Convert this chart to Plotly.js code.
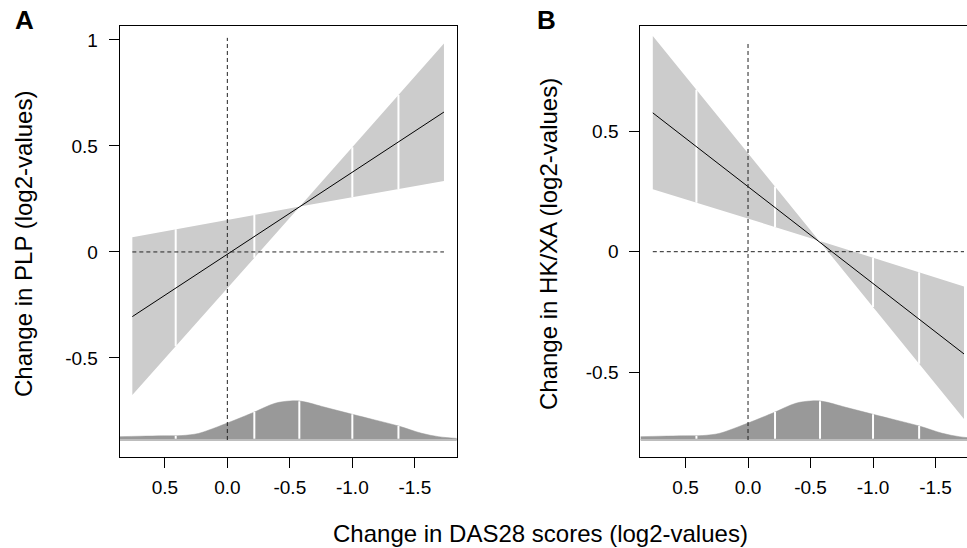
<!DOCTYPE html>
<html><head><meta charset="utf-8">
<script src="https://cdn.plot.ly/plotly-3.0.1.min.js"></script>
<style>html,body{margin:0;padding:0;overflow:hidden;background:#fff}</style>
</head><body><div id="chart"></div>
<script>
// ---- data ----
const xTickVals = [0.5, 0, -0.5, -1, -1.5];
const xTickText = ['0.5', '0.0', '-0.5', '-1.0', '-1.5'];
const yTickValsA = [-0.5, 0, 0.5, 1];
const yTickTextA = ['-0.5', '0', '0.5', '1'];
const yTickValsB = [-0.5, 0, 0.5];
const yTickTextB = ['-0.5', '0', '0.5'];

// quantiles of the DAS28 change (white marks)
const quantiles = [0.413, -0.216, -0.576, -1.0, -1.369];

// Panel A: PLP
const fitXA = [0.76, -1.733];
const fitYA = [-0.305, 0.66];
const bandXA = [0.76, -0.58, -1.733];
const bandUpperA = [0.069, 0.214, 0.984];
const bandLowerA = [-0.675, 0.214, 0.335];
const vTopA = 1.01;

// Panel B: HK/XA
const fitXB = [0.762, -1.728];
const fitYB = [0.577, -0.425];
const bandXB = [0.762, -0.568, -1.728];
const bandUpperB = [0.896, 0.046, -0.145];
const bandLowerB = [0.26, 0.046, -0.695];
const vTopB = 0.87;

// density of DAS28 change
const densX = [0.86, 0.70, 0.50, 0.365, 0.232, 0.152, 0.005, -0.115, -0.222, -0.382, -0.502, -0.595, -0.782, -1.0, -1.18, -1.37, -1.555, -1.69, -1.84];
const densY = [0.051, 0.058, 0.064, 0.068, 0.100, 0.150, 0.257, 0.349, 0.435, 0.565, 0.600, 0.595, 0.503, 0.395, 0.308, 0.215, 0.103, 0.051, 0.024];

// ---- helpers ----
function interp(xs, ys, x) {
  for (let i = 0; i < xs.length - 1; i++) {
    const a = xs[i], b = xs[i + 1];
    if ((x <= a && x >= b) || (x >= a && x <= b)) {
      const t = (x - a) / (b - a);
      return ys[i] + t * (ys[i + 1] - ys[i]);
    }
  }
  return null;
}

const BAND = '#cccccc', DENS = '#999999', FONT = 'Liberation Sans, Arial, Helvetica, sans-serif';
const yRangeA = [-0.966, 1.066], yRangeB = [-0.852, 0.938];
const dRange = [-0.257, 6.369];
const xRangeA = [0.861, -1.835], xRangeB = [0.862, -1.832];

function panel(xa, ya, da, bandX, up, lo, fitX, fitY) {
  const tr = [];
  const px = bandX.concat(bandX.slice().reverse());
  const py = up.concat(lo.slice().reverse());
  tr.push({x: px, y: py, xaxis: xa, yaxis: ya, type: 'scatter', mode: 'lines', fill: 'toself',
    fillcolor: BAND, line: {width: 0, color: BAND}, hoverinfo: 'skip'});
  const wx = [], wy = [];
  quantiles.forEach(q => {
    const u = interp(bandX, up, q), l = interp(bandX, lo, q);
    if (u !== null) { wx.push(q, q, null); wy.push(l, u, null); }
  });
  tr.push({x: wx, y: wy, xaxis: xa, yaxis: ya, type: 'scatter', mode: 'lines',
    line: {color: '#ffffff', width: 2}, hoverinfo: 'skip'});
  tr.push({x: fitX, y: fitY, xaxis: xa, yaxis: ya, type: 'scatter', mode: 'lines',
    line: {color: '#000000', width: 1}, hoverinfo: 'skip'});
  // density (overlay axis, baseline at 0)
  tr.push({x: densX, y: densY, xaxis: xa, yaxis: da, type: 'scatter', mode: 'lines', fill: 'tozeroy',
    fillcolor: DENS, line: {width: 0.5, color: DENS, shape: 'spline', smoothing: 1}, hoverinfo: 'skip'});
  const dwx = [], dwy = [];
  quantiles.forEach(q => { dwx.push(q, q, null); dwy.push(0.02, interp(densX, densY, q), null); });
  tr.push({x: dwx, y: dwy, xaxis: xa, yaxis: da, type: 'scatter', mode: 'lines',
    line: {color: '#ffffff', width: 2}, hoverinfo: 'skip'});
  tr.push({x: [densX[0], densX[densX.length - 1]], y: [0, 0], xaxis: xa, yaxis: da, type: 'scatter', mode: 'lines',
    line: {color: '#bdbdbd', width: 2}, hoverinfo: 'skip'});
  return tr;
}

const data = [].concat(
  panel('x', 'y', 'y3', bandXA, bandUpperA, bandLowerA, fitXA, fitYA),
  panel('x2', 'y2', 'y4', bandXB, bandUpperB, bandLowerB, fitXB, fitYB)
);

// convert density-baseline (0) into y units of the main axis
function baseInY(yr) { return yr[0] + (0 - dRange[0]) / (dRange[1] - dRange[0]) * (yr[1] - yr[0]); }

const dashLine = {color: '#222222', width: 1, dash: '4px,3px'};
const shapes = [
  {type: 'line', layer: 'above', xref: 'x', yref: 'y', x0: bandXA[0], x1: bandXA[2], y0: 0, y1: 0, line: dashLine},
  {type: 'line', layer: 'above', xref: 'x', yref: 'y', x0: 0, x1: 0, y0: baseInY(yRangeA), y1: vTopA, line: dashLine},
  {type: 'line', layer: 'above', xref: 'x2', yref: 'y2', x0: bandXB[0], x1: bandXB[2], y0: 0, y1: 0, line: dashLine},
  {type: 'line', layer: 'above', xref: 'x2', yref: 'y2', x0: 0, x1: 0, y0: baseInY(yRangeB), y1: vTopB, line: dashLine}
];

const W = 977, H = 548;
const tickFont = {family: FONT, size: 19, color: '#000'};
function xax(dom, rng, anchor) {
  return {domain: dom, range: rng, anchor: anchor, showgrid: false, zeroline: false,
    showline: true, mirror: true, linecolor: '#000', linewidth: 1,
    ticks: 'outside', ticklen: 10, tickwidth: 1, tickcolor: '#000',
    tickvals: xTickVals, ticktext: xTickText, tickfont: tickFont, ticklabelstandoff: 3};
}
function yax(rng, anchor, tv, tt) {
  return {domain: [(H - 456.7) / H, (H - 26) / H], range: rng, anchor: anchor, showgrid: false, zeroline: false,
    showline: true, mirror: true, linecolor: '#000', linewidth: 1,
    ticks: 'outside', ticklen: 10, tickwidth: 1, tickcolor: '#000',
    tickvals: tv, ticktext: tt, tickfont: tickFont, ticklabelstandoff: 7};
}

const layout = {
  width: W, height: H, margin: {l: 0, r: 0, t: 0, b: 0},
  paper_bgcolor: '#fff', plot_bgcolor: '#fff', showlegend: false,
  xaxis: xax([119.7 / W, 456.7 / W], xRangeA, 'y'),
  yaxis: yax(yRangeA, 'x', yTickValsA, yTickTextA),
  xaxis2: xax([640.3 / W, 1], xRangeB, 'y2'),
  yaxis2: yax(yRangeB, 'x2', yTickValsB, yTickTextB),
  yaxis3: {overlaying: 'y', range: dRange, visible: false, domain: [(H - 456.7) / H, (H - 26) / H]},
  yaxis4: {overlaying: 'y2', range: dRange, visible: false, domain: [(H - 456.7) / H, (H - 26) / H]},
  shapes: shapes,
  annotations: [
    {text: 'A', xref: 'paper', yref: 'paper', x: 24 / W, y: (H - 19.5) / H, xanchor: 'center', yanchor: 'middle', showarrow: false, font: {family: FONT, size: 26, color: '#000', weight: 'bold'}},
    {text: 'B', xref: 'paper', yref: 'paper', x: 546 / W, y: (H - 19.5) / H, xanchor: 'center', yanchor: 'middle', showarrow: false, font: {family: FONT, size: 26, color: '#000', weight: 'bold'}},
    {text: 'Change in PLP (log2-values)', xref: 'paper', yref: 'paper', x: 23 / W, y: (H - 244) / H, xanchor: 'center', yanchor: 'middle', textangle: -90, showarrow: false, font: {family: FONT, size: 24, color: '#000'}},
    {text: 'Change in HK/XA (log2-values)', xref: 'paper', yref: 'paper', x: 548 / W, y: (H - 244) / H, xanchor: 'center', yanchor: 'middle', textangle: -90, showarrow: false, font: {family: FONT, size: 24, color: '#000'}},
    {text: 'Change in DAS28 scores (log2-values)', xref: 'paper', yref: 'paper', x: 540 / W, y: (H - 533) / H, xanchor: 'center', yanchor: 'middle', showarrow: false, font: {family: FONT, size: 24, color: '#000'}}
  ]
};

Plotly.newPlot('chart', data, layout, {staticPlot: true, displayModeBar: false});
</script>
</body></html>
